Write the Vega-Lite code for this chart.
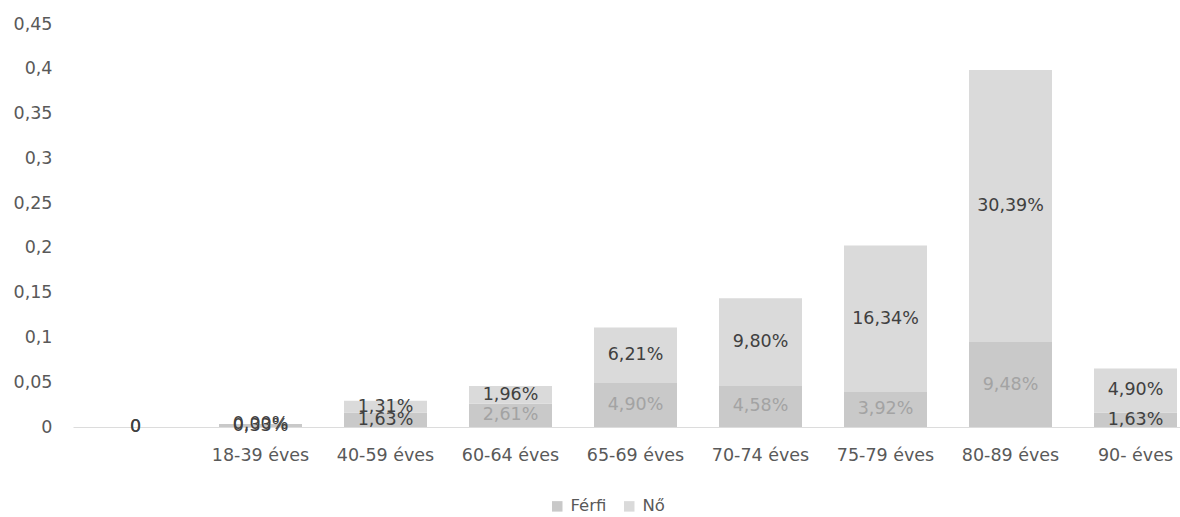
{
  "$schema": "https://vega.github.io/schema/vega-lite/v6.json",
  "autosize": "none",
  "width": 1107,
  "height": 403,
  "padding": {"left": 73, "top": 24, "right": 0, "bottom": 90},
  "background": "white",
  "config": {
    "view": {"stroke": null},
    "font": "DejaVu Sans"
  },
  "data": {
    "values": [
      {"kat": "", "nem": "Férfi", "ertek": 0, "cimke": "0"},
      {"kat": "", "nem": "Nő", "ertek": 0, "cimke": "0"},
      {"kat": "18-39 éves", "nem": "Férfi", "ertek": 0.0033, "cimke": "0,33%"},
      {"kat": "18-39 éves", "nem": "Nő", "ertek": 0, "cimke": "0,00%"},
      {"kat": "40-59 éves", "nem": "Férfi", "ertek": 0.0163, "cimke": "1,63%"},
      {"kat": "40-59 éves", "nem": "Nő", "ertek": 0.0131, "cimke": "1,31%"},
      {"kat": "60-64 éves", "nem": "Férfi", "ertek": 0.0261, "cimke": "2,61%"},
      {"kat": "60-64 éves", "nem": "Nő", "ertek": 0.0196, "cimke": "1,96%"},
      {"kat": "65-69 éves", "nem": "Férfi", "ertek": 0.049, "cimke": "4,90%"},
      {"kat": "65-69 éves", "nem": "Nő", "ertek": 0.0621, "cimke": "6,21%"},
      {"kat": "70-74 éves", "nem": "Férfi", "ertek": 0.0458, "cimke": "4,58%"},
      {"kat": "70-74 éves", "nem": "Nő", "ertek": 0.098, "cimke": "9,80%"},
      {"kat": "75-79 éves", "nem": "Férfi", "ertek": 0.0392, "cimke": "3,92%"},
      {"kat": "75-79 éves", "nem": "Nő", "ertek": 0.1634, "cimke": "16,34%"},
      {"kat": "80-89 éves", "nem": "Férfi", "ertek": 0.0948, "cimke": "9,48%"},
      {"kat": "80-89 éves", "nem": "Nő", "ertek": 0.3039, "cimke": "30,39%"},
      {"kat": "90- éves", "nem": "Férfi", "ertek": 0.0163, "cimke": "1,63%"},
      {"kat": "90- éves", "nem": "Nő", "ertek": 0.049, "cimke": "4,90%"}
    ]
  },
  "encoding": {
    "x": {
      "field": "kat",
      "type": "nominal",
      "sort": null,
      "scale": {"range": [0, 1125], "paddingInner": 0.336, "paddingOuter": 0.168},
      "axis": {
        "title": null,
        "labelAngle": 0,
        "ticks": false,
        "domain": true,
        "domainColor": "#dcdcdc",
        "domainWidth": 1,
        "labelFontSize": 17.5,
        "labelColor": "#595959",
        "labelPadding": 19,
        "labelFont": "DejaVu Sans"
      }
    },
    "y": {
      "field": "ertek",
      "type": "quantitative",
      "stack": "zero",
      "scale": {"domain": [0, 0.45], "nice": false},
      "axis": {
        "title": null,
        "values": [0, 0.05, 0.1, 0.15, 0.2, 0.25, 0.3, 0.35, 0.4, 0.45],
        "labelExpr": "replace(format(datum.value, '~g'), '.', ',')",
        "domain": false,
        "ticks": false,
        "grid": false,
        "labelFontSize": 17.5,
        "labelColor": "#595959",
        "labelPadding": 21,
        "labelFont": "DejaVu Sans"
      }
    },
    "order": {"field": "nem", "type": "nominal", "sort": "ascending"}
  },
  "layer": [
    {
      "mark": {"type": "bar"},
      "encoding": {
        "color": {
          "field": "nem",
          "type": "nominal",
          "scale": {"domain": ["Férfi", "Nő"], "range": ["#c9c9c9", "#dadada"]},
          "legend": {
            "title": null,
            "orient": "none",
            "direction": "horizontal",
            "legendX": 476,
            "legendY": 474,
            "symbolType": "square",
            "symbolSize": 110,
            "symbolStrokeWidth": 0,
            "labelFontSize": 16.5,
            "labelColor": "#595959",
            "labelFont": "DejaVu Sans",
            "columnPadding": 14,
            "labelOffset": 5
          }
        }
      }
    },
    {
      "mark": {"type": "text", "fontSize": 17.5, "align": "center", "baseline": "middle"},
      "encoding": {
        "y": {"field": "ertek", "type": "quantitative", "stack": "zero", "bandPosition": 0.5},
        "text": {"field": "cimke", "type": "nominal"},
        "color": {
          "condition": {"test": "datum.nem === 'Nő' || datum.ertek < 0.02", "value": "#404040"},
          "value": "#a3a3a3"
        }
      }
    }
  ]
}
